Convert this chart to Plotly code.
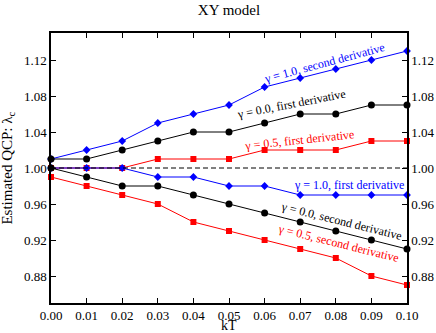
import plotly.graph_objects as go

# kT 取值
kT = [0.00, 0.01, 0.02, 0.03, 0.04, 0.05, 0.06, 0.07, 0.08, 0.09, 0.10]

g10_second = [1.01, 1.02, 1.03, 1.05, 1.06, 1.07, 1.09, 1.10, 1.11, 1.12, 1.13]
g00_first = [1.01, 1.01, 1.02, 1.03, 1.04, 1.04, 1.05, 1.06, 1.06, 1.07, 1.07]
g05_first = [1.00, 1.00, 1.00, 1.01, 1.01, 1.01, 1.02, 1.02, 1.02, 1.03, 1.03]
g10_first = [1.00, 1.00, 1.00, 0.99, 0.99, 0.98, 0.98, 0.97, 0.97, 0.97, 0.97]
g00_second = [1.00, 0.99, 0.98, 0.98, 0.97, 0.96, 0.95, 0.94, 0.93, 0.92, 0.91]
g05_second = [0.99, 0.98, 0.97, 0.96, 0.94, 0.93, 0.92, 0.91, 0.90, 0.88, 0.87]

y_ticks = [0.88, 0.92, 0.96, 1.00, 1.04, 1.08, 1.12]
x_ticks = kT
ref_level = 1.00

FONT = "Liberation Serif, Times New Roman, serif"
BLUE = "#0000ff"
BLACK = "#000000"
RED = "#ff0000"

series = [
    (g10_second, BLUE, "diamond", 6),
    (g00_first, BLACK, "circle", 7),
    (g05_first, RED, "square", 6),
    (g10_first, BLUE, "diamond", 6),
    (g00_second, BLACK, "circle", 7),
    (g05_second, RED, "square", 6),
]

fig = go.Figure()

# 参考虚线
fig.add_trace(go.Scatter(
    x=[kT[0], kT[-1]], y=[ref_level, ref_level], mode="lines",
    line=dict(color=BLACK, width=1, dash="5px,3px"),
    showlegend=False, hoverinfo="skip", yaxis="y2",
))

for ys, color, sym, size in series:
    fig.add_trace(go.Scatter(
        x=kT, y=ys, mode="lines+markers",
        line=dict(color=color, width=1),
        marker=dict(color=color, symbol=sym, size=size),
        showlegend=False, cliponaxis=False,
    ))

labels = [
    ("γ = 1.0, second derivative", 0.0767, 1.117, -15, BLUE),
    ("γ = 0.0, first derivative", 0.0675, 1.0715, -11, BLACK),
    ("γ = 0.5, first derivative", 0.0697, 1.0316, -6, RED),
    ("γ = 1.0, first derivative", 0.0836, 0.9806, 0, BLUE),
    ("γ = 0.0, second derivative", 0.0815, 0.9407, 14, BLACK),
    ("γ = 0.5, second derivative", 0.0805, 0.9163, 14, RED),
]
for text, x, y, ang, color in labels:
    fig.add_annotation(
        x=x, y=y, text=text, textangle=ang, showarrow=False,
        font=dict(family=FONT, size=12, color=color),
    )

# 轴标题
fig.add_annotation(
    x=0.5, y=-0.085, xref="paper", yref="paper", text="kT", showarrow=False,
    yanchor="middle", borderpad=0, font=dict(family=FONT, size=14, color=BLACK),
)
fig.add_annotation(
    x=-0.122, y=0.5, xref="paper", yref="paper", text="Estimated QCP: λ<sub>c</sub>",
    textangle=-90, showarrow=False, xanchor="center", yanchor="middle",
    font=dict(family=FONT, size=15, color=BLACK),
)

axis_common = dict(
    showgrid=False, zeroline=False, ticks="inside", ticklen=5,
    tickcolor=BLACK, linecolor=BLACK, linewidth=1.5, automargin=False,
    tickfont=dict(family=FONT, size=13, color=BLACK),
)

fig.update_layout(
    width=436, height=333,
    margin=dict(l=51, r=29, t=33, b=30),
    paper_bgcolor="white", plot_bgcolor="white",
    font=dict(family=FONT, color=BLACK),
    title=dict(text="XY model", x=0.5, xref="paper", y=0.97, yanchor="middle",
               font=dict(family=FONT, size=15, color=BLACK)),
    xaxis=dict(range=[0, 0.10], tickvals=x_ticks, tickformat=".2f",
               mirror="ticks", showline=True, **axis_common),
    yaxis=dict(range=[0.85, 1.15], tickvals=y_ticks, tickformat=".2f",
               showline=True, **axis_common),
    yaxis2=dict(range=[0.85, 1.15], tickvals=y_ticks, tickformat=".2f",
                overlaying="y", side="right", showline=True,
                **axis_common),
)

fig.write_html("out.html", config={"displayModeBar": False},
               post_script="document.body.style.margin='0';")
